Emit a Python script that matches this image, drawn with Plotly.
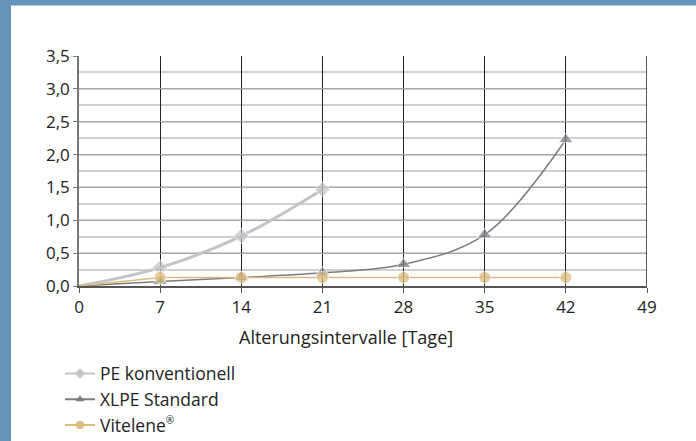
import plotly.graph_objects as go

days = [0, 7, 14, 21, 28, 35, 42]
pe_x = [0, 7, 14, 21]
pe_vals = [0.0, 0.28, 0.76, 1.47]
xlpe_vals = [0.0, 0.07, 0.13, 0.20, 0.33, 0.78, 2.23]
vit_vals = [0.0, 0.13, 0.13, 0.13, 0.13, 0.13, 0.13]
x_ticks = [0, 7, 14, 21, 28, 35, 42, 49]
y_ticks = [0, 0.5, 1.0, 1.5, 2.0, 2.5, 3.0, 3.5]

FONT = "Open Sans"
FS = 17
FS_TXT = 17.5
W, H = 696, 441
L, R, T, B = 79, 49, 56, 155
pw, ph = W - L - R, H - T - B

PE_C, XL_C, VI_C = "#c3c4c7", "#7a7c80", "#dbba7b"
VIT_NAME = "Vitelene<sup><span style='font-size:10px'>®</span></sup>"


def sizes(n, s):
    return [0] + [s] * (n - 1)


fig = go.Figure()
fig.add_trace(go.Scatter(
    x=pe_x, y=pe_vals, name="PE konventionell", mode="lines+markers", showlegend=False,
    line=dict(color=PE_C, width=3, shape="spline"),
    marker=dict(symbol="diamond", size=sizes(len(pe_x), 12), color=PE_C)))
fig.add_trace(go.Scatter(
    x=days, y=xlpe_vals, name="XLPE Standard", mode="lines+markers", showlegend=False,
    line=dict(color=XL_C, width=1.5, shape="spline"),
    marker=dict(symbol="triangle-up", size=sizes(len(days), 13), color=XL_C)))
fig.add_trace(go.Scatter(
    x=days, y=vit_vals, name=VIT_NAME, mode="lines+markers", showlegend=False,
    line=dict(color=VI_C, width=1.5),
    marker=dict(symbol="circle", size=sizes(len(days), 12), color=VI_C)))

# legend entries (small symbols as in the reference)
for name, col, sym in [("PE konventionell", PE_C, "diamond"),
                       ("XLPE Standard", XL_C, "triangle-up"),
                       (VIT_NAME, VI_C, "circle")]:
    fig.add_trace(go.Scatter(x=[None], y=[None], name=name, mode="lines+markers",
                             line=dict(color=col, width=2),
                             marker=dict(symbol=sym, size=8, color=col)))


def px_x(p):
    return (p - L) / pw


def px_y(p):
    return (H - B - p) / ph


shapes = [
    dict(type="rect", xref="paper", yref="paper", x0=px_x(-5), x1=px_x(W + 5),
         y0=px_y(5.5), y1=px_y(-5), fillcolor="#6494b9", line=dict(width=0), layer="below"),
    dict(type="rect", xref="paper", yref="paper", x0=px_x(-5), x1=px_x(11),
         y0=px_y(H + 5), y1=px_y(-5), fillcolor="#6494b9", line=dict(width=0), layer="below"),
    dict(type="line", xref="x", yref="y", x0=49, x1=49, y0=0, y1=3.5,
         line=dict(color="#222222", width=1.5)),
]

fig.update_layout(
    width=W, height=H,
    margin=dict(l=L, r=R, t=T, b=B, pad=0, autoexpand=False),
    paper_bgcolor="white", plot_bgcolor="white",
    separators=",.",
    font=dict(family=FONT, size=FS, color="#222222"),
    showlegend=True,
    legend=dict(x=px_x(60), xref="paper", y=1 - 355.5 / H, yref="container",
                xanchor="left", yanchor="top",
                orientation="v", font=dict(family=FONT, size=FS_TXT, color="#222222"),
                tracegroupgap=0, itemwidth=30, bgcolor="rgba(0,0,0,0)"),
    shapes=shapes,
    annotations=[dict(text="Alterungsintervalle [Tage]", xref="paper", yref="paper",
                      x=px_x(346), y=px_y(337), xanchor="center", yanchor="middle",
                      showarrow=False, font=dict(family=FONT, size=18, color="#222222"))],
    xaxis=dict(range=[0, 49], tickvals=x_ticks, ticktext=[str(v) for v in x_ticks],
               showgrid=True, gridcolor="#222222", gridwidth=1,
               showline=True, linecolor="#555555", linewidth=1.5,
               ticks="outside", ticklen=5, tickcolor="#555555",
               zeroline=False, fixedrange=True, automargin=False,
               tickfont=dict(family=FONT, size=FS, color="#222222")),
    yaxis=dict(range=[0, 3.5], tickvals=y_ticks, tickformat=".1f",
               showgrid=True, gridcolor="#a8a8a8", gridwidth=1.2,
               minor=dict(dtick=0.25, showgrid=True, gridcolor="#d0d0d0", gridwidth=1.8),
               showline=True, linecolor="#777777", linewidth=1.5,
               ticks="outside", ticklen=4, tickcolor="#777777",
               zeroline=False, fixedrange=True, automargin=False,
               tickfont=dict(family=FONT, size=FS, color="#222222")),
)

fig.write_html("out.html", config={"displayModeBar": False},
               post_script="document.body.style.margin='0';document.body.style.overflow='hidden';")
